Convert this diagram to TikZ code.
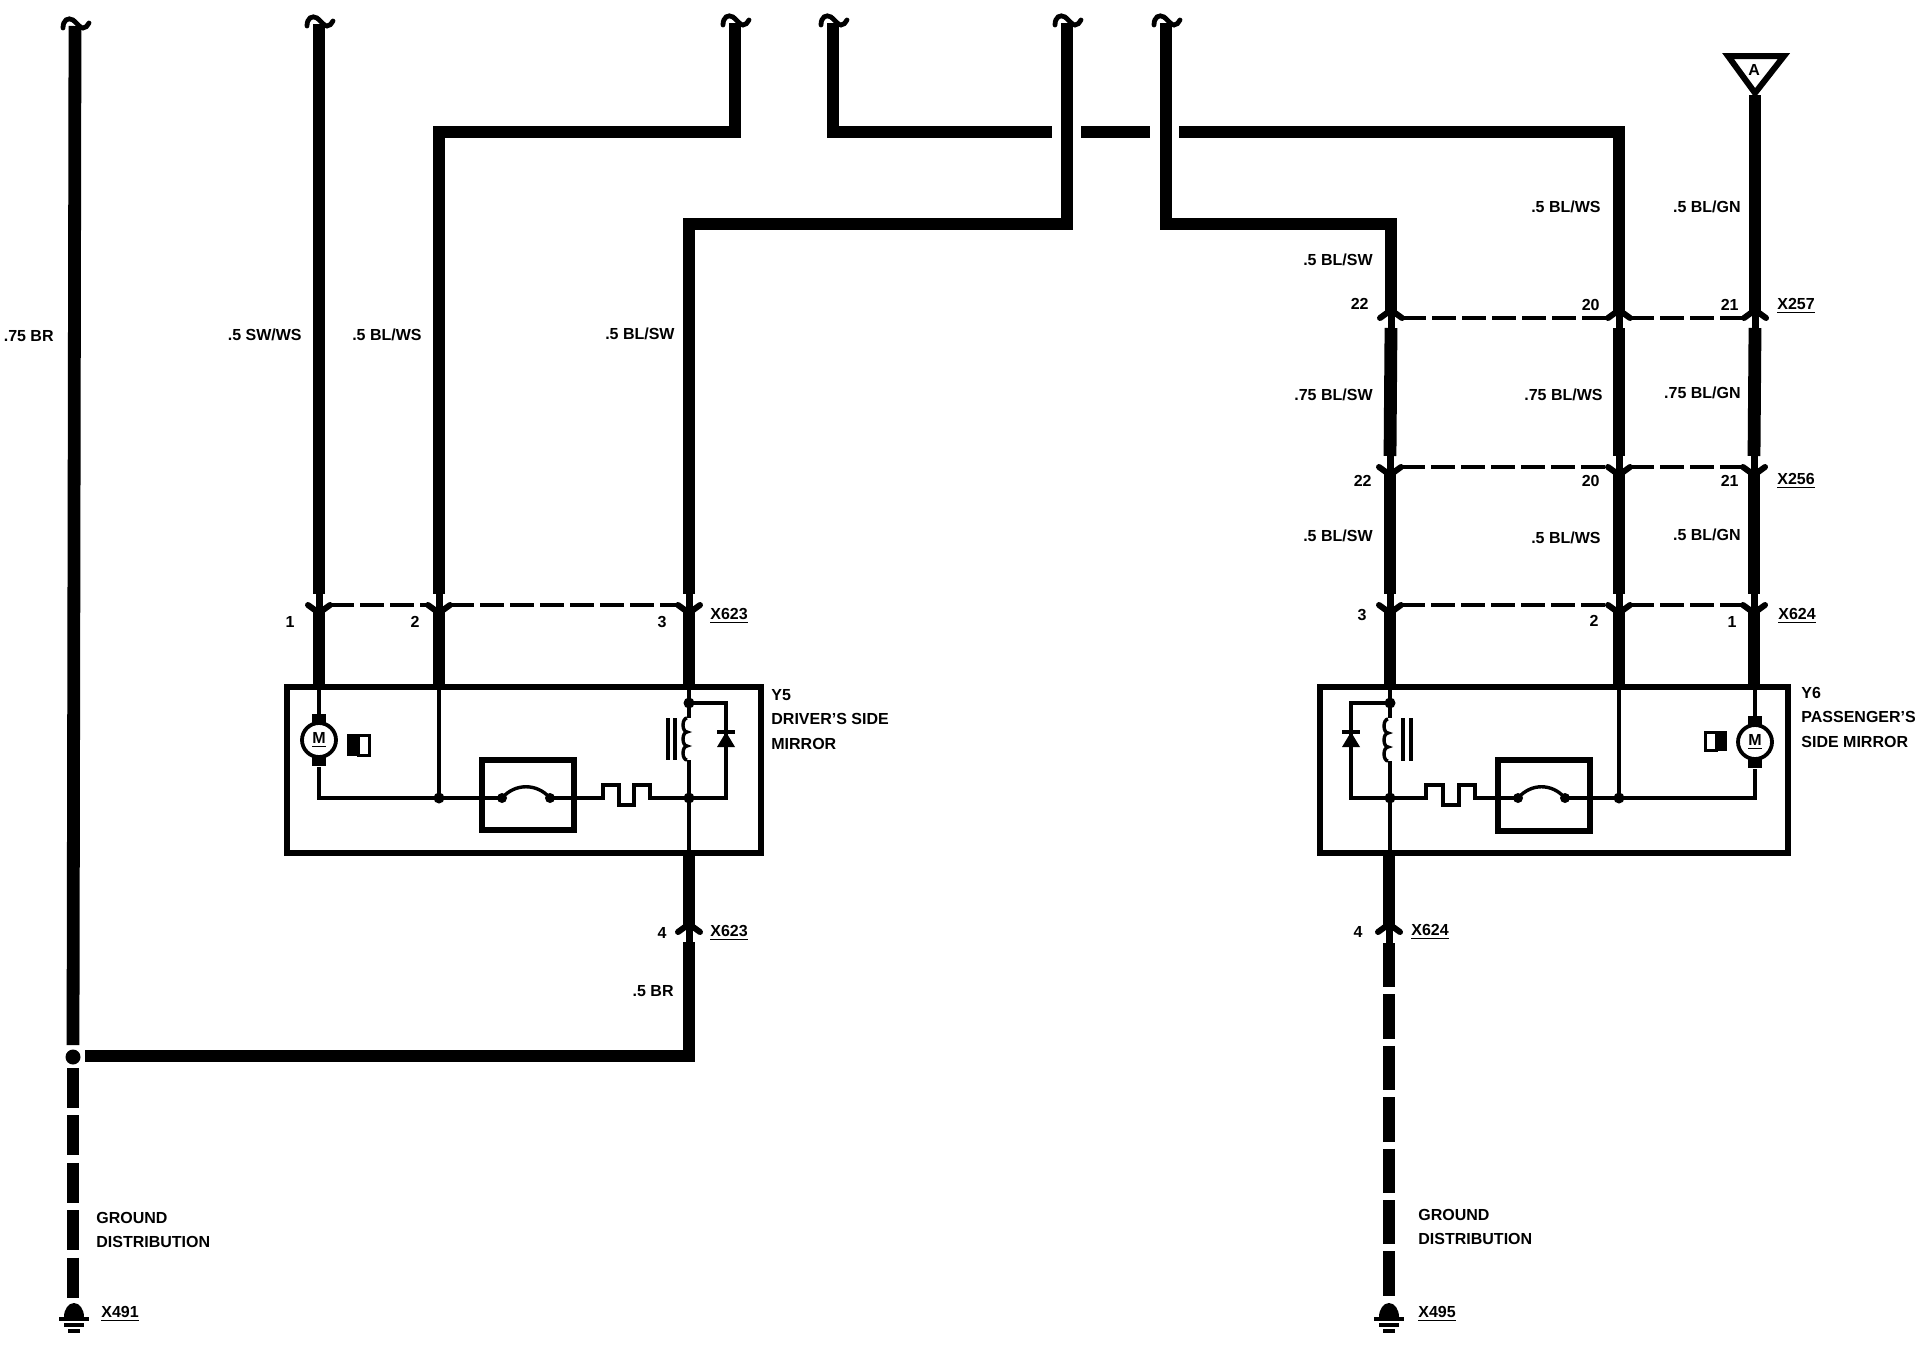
\documentclass[tikz,border=0pt]{standalone}
\usepackage{fontspec}
\setmainfont{Liberation Sans}
\tikzset{
  wire/.style={line width=6.4pt},
  thinwire/.style={line width=1.7pt},
  frame/.style={line width=3pt},
  link/.style={line width=2.3pt, dash pattern=on 12pt off 3pt},
  earth/.style={line width=6.4pt, dash pattern=on 22.2pt off 3.5pt},
  junction/.style={circle, fill=black, inner sep=0pt, minimum size=5.5pt},
  lab/.style={font=\fontsize{8}{8}\selectfont\bfseries, inner sep=0pt},
  rlab/.style={lab, anchor=east},
  llab/.style={lab, anchor=west},
  forkv/.pic={\draw [ line width=3pt, line cap=round ] (-11,0)--(0,8)--(11,0);
    \draw [ line width=3.5pt ] (0,8)--(0,-12);},
  forkn/.pic={\draw [ line width=3pt, line cap=round ] (-11,0)--(0,-8)--(11,0);
    \draw [ line width=3.5pt ] (0,-8)--(0,12);},
  wirecut/.pic={\draw [ line width=2.4pt, line cap=round ] (-12,2) .. controls (-12,-6) and (-7,-9) .. (-2,-6) .. controls (2,-3) and (5,2) .. (8,2) .. controls (10,2) and (13,0) .. (14,-3);},
  motor/.pic={\draw [ line width=1.9pt, fill=white ] (0,0) circle (17);
    \fill (-7,-26) rectangle (7,-17);
    \fill (-7,17) rectangle (7,26);},
  coil/.pic={\draw [ thinwire ] (0,0) arc (-90:90:-4 and -7) arc (-90:90:-4 and -7) arc (-90:90:-4 and -7);},
  groundsym/.pic={\fill (-10,0) arc (180:360:10 and 14) -- cycle;
    \draw [ line width=2.2pt ] (-15,2)--(15,2);
    \draw [ line width=2.2pt ] (-10,8)--(10,8);
    \draw [ line width=2.2pt ] (-6,14)--(6,14);}
}
\newcommand{\xlab}[3]{\node [ llab ] (#1) at #2 { \underline{#3} };}
\begin{document}
\begin{tikzpicture}[ x=0.5pt, y=-0.5pt ]
  \useasboundingbox (0,0) rectangle (1920,1344);
  % points where the wires begin at the top
  \coordinate (topA) at (75,26);
  \coordinate (topB) at (319,24);
  \coordinate (topC) at (735,23);
  \coordinate (topD) at (833,23);
  \coordinate (topE) at (1067,23);
  \coordinate (topF) at (1166,23);
  \pic at (topA) {wirecut};
  \pic at (topB) {wirecut};
  \pic at (topC) {wirecut};
  \pic at (topD) {wirecut};
  \pic at (topE) {wirecut};
  \pic at (topF) {wirecut};
  % connector pins, left
  \coordinate (pinA) at (319,605);
  \coordinate (pinB) at (439,605);
  \coordinate (pinC) at (689,605);
  \coordinate (pinD) at (689,932);
  % connector pins, right
  \coordinate (pinE) at (1390,605);
  \coordinate (pinF) at (1619,605);
  \coordinate (pinG) at (1754,605);
  \coordinate (pinH) at (1390,467);
  \coordinate (pinI) at (1619,467);
  \coordinate (pinJ) at (1754,467);
  \coordinate (pinK) at (1391,318);
  \coordinate (pinL) at (1619,318);
  \coordinate (pinM) at (1755,318);
  \coordinate (pinN) at (1389,932);
  % wires, left
  \coordinate (splice) at (73,1057);
  \draw [ wire ] (topA)--(73,1045);
  \draw [ wire ] (topB)--([yshift=5.5pt]pinA);
  \draw [ wire ] ([yshift=-3.5pt]pinA)--(319,687);
  \draw [ wire ] (topC)--(735,132)--(439,132)--([yshift=5.5pt]pinB);
  \draw [ wire ] ([yshift=-3.5pt]pinB)--(439,687);
  \draw [ wire ] (topD)--(833,132)--(1052,132);
  \draw [ wire ] (1081,132)--(1150,132);
  \draw [ wire ] (1179,132)--(1619,132)--([yshift=3.5pt]pinL);
  \draw [ wire ] (topE)--(1067,224)--(689,224)--([yshift=5.5pt]pinC);
  \draw [ wire ] ([yshift=-3.5pt]pinC)--(689,687);
  \draw [ wire ] (topF)--(1166,224)--(1391,224)--([yshift=3.5pt]pinK);
  \draw [ wire ] (689,853)--([yshift=3.5pt]pinD);
  \draw [ wire ] ([yshift=-5pt]pinD)--(689,1056)--(85,1056);
  \node [ junction, minimum size=7.5pt ] (spliceDot) at (splice) {};
  \draw [ earth, dash pattern=on 20pt off 3.7pt ] (73,1068)--(73,1298);
  \pic at (74,1317) {groundsym};
  % wires, right
  \draw [ wire ] (1755,95)--([yshift=3.5pt]pinM);
  \draw [ wire ] ([yshift=-5pt]pinK)--([yshift=5.5pt]pinH);
  \draw [ wire ] ([yshift=-5pt]pinL)--([yshift=5.5pt]pinI);
  \draw [ wire ] ([yshift=-5pt]pinM)--([yshift=5.5pt]pinJ);
  \draw [ wire ] ([yshift=-3.5pt]pinH)--([yshift=5.5pt]pinE);
  \draw [ wire ] ([yshift=-3.5pt]pinI)--([yshift=5.5pt]pinF);
  \draw [ wire ] ([yshift=-3.5pt]pinJ)--([yshift=5.5pt]pinG);
  \draw [ wire ] ([yshift=-3.5pt]pinE)--(1390,687);
  \draw [ wire ] ([yshift=-3.5pt]pinF)--(1619,687);
  \draw [ wire ] ([yshift=-3.5pt]pinG)--(1754,687);
  \draw [ wire ] (1389,853)--([yshift=3.5pt]pinN);
  \draw [ earth ] (1389,943)--(1389,1298);
  \pic at (1389,1317) {groundsym};
  % forks of the connectors
  \pic at (pinA) {forkv};
  \pic at (pinB) {forkv};
  \pic at (pinC) {forkv};
  \pic at (pinD) {forkn};
  \pic at (pinE) {forkv};
  \pic at (pinF) {forkv};
  \pic at (pinG) {forkv};
  \pic at (pinH) {forkv};
  \pic at (pinI) {forkv};
  \pic at (pinJ) {forkv};
  \pic at (pinK) {forkn};
  \pic at (pinL) {forkn};
  \pic at (pinM) {forkn};
  \pic at (pinN) {forkn};
  \draw [ link ] ([xshift=5.5pt]pinA)--([xshift=-5.5pt]pinB);
  \draw [ link ] ([xshift=5.5pt]pinB)--([xshift=-5.5pt]pinC);
  \draw [ link ] ([xshift=5.5pt]pinE)--([xshift=-5.5pt]pinF);
  \draw [ link ] ([xshift=5.5pt]pinF)--([xshift=-5.5pt]pinG);
  \draw [ link ] ([xshift=5.5pt]pinH)--([xshift=-5.5pt]pinI);
  \draw [ link ] ([xshift=5.5pt]pinI)--([xshift=-5.5pt]pinJ);
  \draw [ link ] ([xshift=5.5pt]pinK)--([xshift=-5.5pt]pinL);
  \draw [ link ] ([xshift=5.5pt]pinL)--([xshift=-5.5pt]pinM);
  % triangle
  \draw [ line width=3pt, line join=miter ] (1728,56)--(1784,56)--(1755,93)--cycle;
  \node [ lab ] (triA) at (1754,70) { A };
  % left mirror
  \draw [ frame ] (287,687) rectangle (761,853);
  \draw [ thinwire ] (319,687)--(319,714);
  \draw [ thinwire ] (319,767)--(319,798)--(439,798);
  \draw [ thinwire ] (439,687)--(439,798);
  \pic at (319,740) {motor};
  \node [ lab ] (motorL) at (319,740) { \underline{M} };
  \fill (347,734) rectangle (359,756);
  \draw [ line width=1.5pt ] (358,735) rectangle (369,755);
  \draw [ frame ] (482,760) rectangle (574,830);
  \draw [ thinwire ] (439,798)--(502,798);
  \draw [ thinwire ] (502,798) .. controls (515,783) and (537,783) .. (550,798);
  \draw [ thinwire ] (550,798)--(603,798)--(603,785)--(619,785)--(619,805)--(634,805)--(634,785)--(650,785)--(650,798)--(689,798);
  \node [ junction, minimum size=5pt ] (contactA) at (502,798) {};
  \node [ junction, minimum size=5pt ] (contactB) at (550,798) {};
  \node [ junction ] (dotA) at (439,798) {};
  \draw [ thinwire ] (689,687)--(689,718);
  \pic at (687,760) {coil};
  \draw [ thinwire ] (689,760)--(689,853);
  \draw [ thinwire ] (668,718)--(668,760);
  \draw [ thinwire ] (675,718)--(675,760);
  \draw [ thinwire ] (689,703)--(726,703)--(726,798)--(689,798);
  \fill (726,732)--(735,747)--(717,747)--cycle;
  \draw [ line width=2pt ] (717,732)--(735,732);
  \node [ junction ] (dotB) at (689,703) {};
  \node [ junction ] (dotC) at (689,798) {};
  % right mirror
  \draw [ frame ] (1320,687) rectangle (1788,853);
  \draw [ thinwire ] (1755,687)--(1755,716);
  \draw [ thinwire ] (1755,769)--(1755,798)--(1619,798);
  \draw [ thinwire ] (1619,687)--(1619,798);
  \pic at (1755,742) {motor};
  \node [ lab ] (motorR) at (1755,742) { \underline{M} };
  \fill (1715,731) rectangle (1727,751);
  \draw [ line width=1.5pt ] (1705,732) rectangle (1716,750);
  \draw [ frame ] (1498,760) rectangle (1590,831);
  \draw [ thinwire ] (1619,798)--(1565,798);
  \draw [ thinwire ] (1518,798) .. controls (1531,783) and (1552,783) .. (1565,798);
  \draw [ thinwire ] (1518,798)--(1475,798)--(1475,785)--(1459,785)--(1459,805)--(1443,805)--(1443,785)--(1426,785)--(1426,798)--(1390,798);
  \node [ junction, minimum size=5pt ] (contactC) at (1518,798) {};
  \node [ junction, minimum size=5pt ] (contactD) at (1565,798) {};
  \node [ junction ] (dotD) at (1619,798) {};
  \draw [ thinwire ] (1390,687)--(1390,718);
  \pic at (1388,761) {coil};
  \draw [ thinwire ] (1390,761)--(1390,853);
  \draw [ thinwire ] (1403,718)--(1403,761);
  \draw [ thinwire ] (1411,718)--(1411,761);
  \draw [ thinwire ] (1390,703)--(1351,703)--(1351,798)--(1390,798);
  \fill (1351,732)--(1360,747)--(1342,747)--cycle;
  \draw [ line width=2pt ] (1342,732)--(1360,732);
  \node [ junction ] (dotE) at (1390,703) {};
  \node [ junction ] (dotF) at (1390,798) {};
  % labels
  \node [ rlab ] (gaugeA) at (54,336) { .75 BR };
  \node [ rlab ] (gaugeB) at (302,335) { .5 SW/WS };
  \node [ rlab ] (gaugeC) at (422,335) { .5 BL/WS };
  \node [ rlab ] (gaugeD) at (675,334) { .5 BL/SW };
  \node [ rlab ] (gaugeE) at (674,991) { .5 BR };
  \node [ rlab ] (gaugeF) at (1373,260) { .5 BL/SW };
  \node [ rlab ] (gaugeG) at (1601,207) { .5 BL/WS };
  \node [ rlab ] (gaugeH) at (1741,207) { .5 BL/GN };
  \node [ rlab ] (gaugeI) at (1373,395) { .75 BL/SW };
  \node [ rlab ] (gaugeJ) at (1603,395) { .75 BL/WS };
  \node [ rlab ] (gaugeK) at (1741,393) { .75 BL/GN };
  \node [ rlab ] (gaugeL) at (1373,536) { .5 BL/SW };
  \node [ rlab ] (gaugeM) at (1601,538) { .5 BL/WS };
  \node [ rlab ] (gaugeN) at (1741,535) { .5 BL/GN };
  \node [ rlab ] (numA) at (295,622) { 1 };
  \node [ rlab ] (numB) at (420,622) { 2 };
  \node [ rlab ] (numC) at (667,622) { 3 };
  \node [ rlab ] (numD) at (667,933) { 4 };
  \node [ rlab ] (numE) at (1369,304) { 22 };
  \node [ rlab ] (numF) at (1600,305) { 20 };
  \node [ rlab ] (numG) at (1739,305) { 21 };
  \node [ rlab ] (numH) at (1372,481) { 22 };
  \node [ rlab ] (numI) at (1600,481) { 20 };
  \node [ rlab ] (numJ) at (1739,481) { 21 };
  \node [ rlab ] (numK) at (1367,615) { 3 };
  \node [ rlab ] (numL) at (1599,621) { 2 };
  \node [ rlab ] (numM) at (1737,622) { 1 };
  \node [ rlab ] (numN) at (1363,932) { 4 };
  \xlab{plugA}{(710,616)}{X623}
  \xlab{plugB}{(710,933)}{X623}
  \xlab{plugC}{(1777,306)}{X257}
  \xlab{plugD}{(1777,481)}{X256}
  \xlab{plugE}{(1778,616)}{X624}
  \xlab{plugF}{(1411,932)}{X624}
  \xlab{plugG}{(101,1314)}{X491}
  \xlab{plugH}{(1418,1314)}{X495}
  \node [ llab ] (mirrorA) at (771,695) { Y5 };
  \node [ llab ] (mirrorB) at (771,719) { DRIVER'S SIDE };
  \node [ llab ] (mirrorC) at (771,744) { MIRROR };
  \node [ llab ] (mirrorD) at (1801,693) { Y6 };
  \node [ llab ] (mirrorE) at (1801,717) { PASSENGER'S };
  \node [ llab ] (mirrorF) at (1801,742) { SIDE MIRROR };
  \node [ llab ] (groundA) at (96,1218) { GROUND };
  \node [ llab ] (groundB) at (96,1242) { DISTRIBUTION };
  \node [ llab ] (groundC) at (1418,1215) { GROUND };
  \node [ llab ] (groundD) at (1418,1239) { DISTRIBUTION };
\end{tikzpicture}
\end{document}
